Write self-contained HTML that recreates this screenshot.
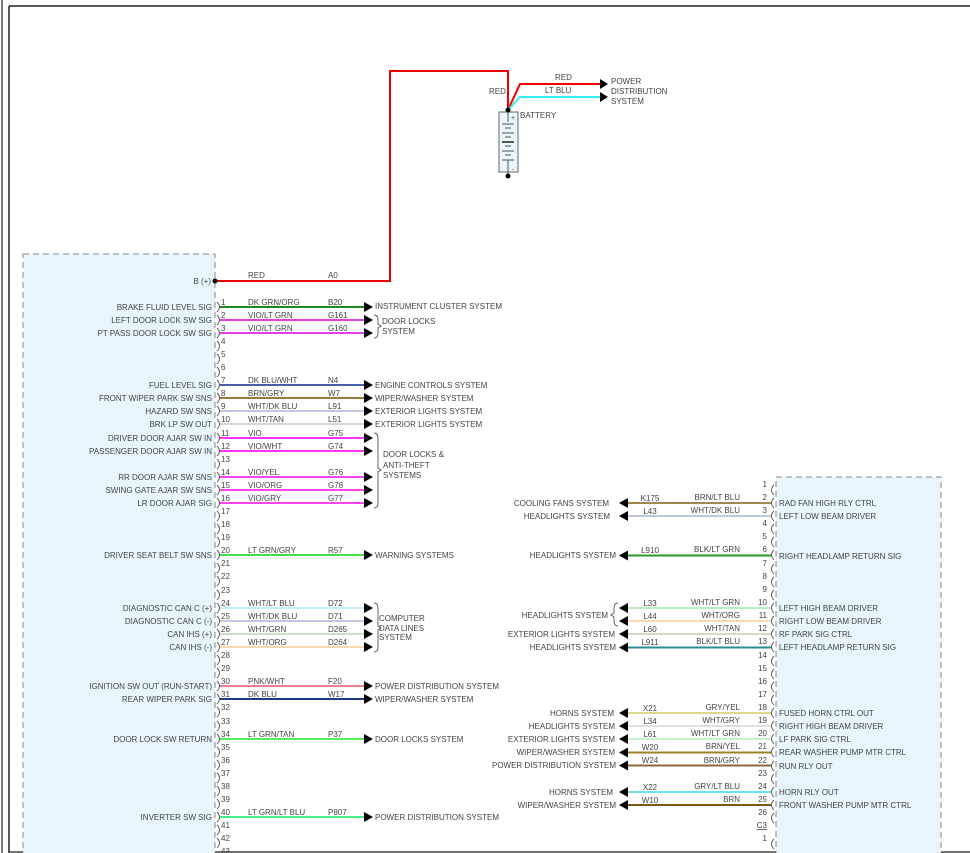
<!DOCTYPE html>
<html><head><meta charset="utf-8"><style>
html,body{margin:0;padding:0;background:#fff;}
svg{display:block;}
text{font-family:"Liberation Sans",sans-serif;font-size:8px;fill:#444;}
.r{text-anchor:end;}
.m{text-anchor:middle;}
</style></head><body>
<svg width="970" height="853" viewBox="0 0 970 853" xmlns="http://www.w3.org/2000/svg">
<defs>
<marker id="a" markerWidth="10" markerHeight="10" refX="0" refY="5" orient="auto" markerUnits="userSpaceOnUse"></marker>
</defs>
<!-- frame -->
<line x1="2" y1="0" x2="2" y2="853" stroke="#555" stroke-width="1.5"/>
<line x1="9" y1="6" x2="9" y2="853" stroke="#222" stroke-width="1.5"/>
<line x1="9" y1="6" x2="970" y2="6" stroke="#222" stroke-width="1.5"/>
<line x1="9" y1="852" x2="970" y2="852" stroke="#444" stroke-width="1.5"/>

<!-- modules -->
<rect x="23" y="254" width="192" height="620" fill="#e8f5fd" stroke="#888" stroke-dasharray="6,4"/>
<rect x="776" y="477" width="165" height="400" fill="#e8f5fd" stroke="#888" stroke-dasharray="6,4"/>

<!-- battery -->
<polyline points="215,281 390,281 390,71 508,71 508,110" fill="none" stroke="#e00" stroke-width="2"/>
<polyline points="508,110 520,84 600,84" fill="none" stroke="#e00" stroke-width="2"/>
<polyline points="508,110 520,97 600,97" fill="none" stroke="#3ee" stroke-width="2"/>
<polygon points="600,79 608,84 600,89" fill="#000"/>
<polygon points="600,92 608,97 600,102" fill="#000"/>
<text x="555" y="80">RED</text>
<text x="545" y="93">LT BLU</text>
<text x="489" y="94">RED</text>
<text x="611" y="84">POWER</text>
<text x="611" y="94">DISTRIBUTION</text>
<text x="611" y="104">SYSTEM</text>
<text x="520" y="118">BATTERY</text>
<rect x="499" y="112" width="19" height="60" fill="#e8f5fd" stroke="#666"/>
<text x="511" y="120" style="font-size:7px">+</text>
<text x="512" y="171" style="font-size:6px">-</text>
<g stroke="#555">
<line x1="508" y1="112" x2="508" y2="122"/>
<line x1="502" y1="124" x2="514" y2="124"/>
<line x1="505" y1="128" x2="511" y2="128"/>
<line x1="502" y1="133" x2="514" y2="133"/>
<line x1="505" y1="137" x2="511" y2="137"/>
<line x1="502" y1="142" x2="514" y2="142" stroke-width="2"/>
<line x1="505" y1="146" x2="511" y2="146"/>
<line x1="502" y1="151" x2="514" y2="151"/>
<line x1="505" y1="155" x2="511" y2="155"/>
<line x1="502" y1="160" x2="514" y2="160"/>
<line x1="508" y1="160" x2="508" y2="176"/>
</g>
<circle cx="508" cy="110" r="2.5" fill="#000"/>
<circle cx="508" cy="176" r="2.5" fill="#000"/>

<!-- B(+) -->
<circle cx="215" cy="281" r="2.5" fill="#000"/>
<text class="r" x="211" y="284">B (+)</text>
<text x="248" y="278">RED</text>
<text x="328" y="278">A0</text>

<!-- left connector glyphs -->
<g fill="none" stroke="#555" stroke-width="0.9">
<path d="M217 302 Q222 307 217 312"/><path d="M217 315 Q222 320 217 325"/><path d="M217 328 Q222 333 217 338"/><path d="M217 341 Q222 346 217 351"/><path d="M217 354 Q222 359 217 364"/><path d="M217 367 Q222 372 217 377"/><path d="M217 380 Q222 385 217 390"/><path d="M217 393 Q222 398 217 403"/><path d="M217 406 Q222 411 217 416"/><path d="M217 419 Q222 424 217 429"/><path d="M217 433 Q222 438 217 443"/><path d="M217 446 Q222 451 217 456"/><path d="M217 459 Q222 464 217 469"/><path d="M217 472 Q222 477 217 482"/><path d="M217 485 Q222 490 217 495"/><path d="M217 498 Q222 503 217 508"/><path d="M217 511 Q222 516 217 521"/><path d="M217 524 Q222 529 217 534"/><path d="M217 537 Q222 542 217 547"/><path d="M217 550 Q222 555 217 560"/><path d="M217 563 Q222 568 217 573"/><path d="M217 576 Q222 581 217 586"/><path d="M217 590 Q222 595 217 600"/><path d="M217 603 Q222 608 217 613"/><path d="M217 616 Q222 621 217 626"/><path d="M217 629 Q222 634 217 639"/><path d="M217 642 Q222 647 217 652"/><path d="M217 655 Q222 660 217 665"/><path d="M217 668 Q222 673 217 678"/><path d="M217 681 Q222 686 217 691"/><path d="M217 694 Q222 699 217 704"/><path d="M217 707 Q222 712 217 717"/><path d="M217 721 Q222 726 217 731"/><path d="M217 734 Q222 739 217 744"/><path d="M217 747 Q222 752 217 757"/><path d="M217 760 Q222 765 217 770"/><path d="M217 773 Q222 778 217 783"/><path d="M217 786 Q222 791 217 796"/><path d="M217 799 Q222 804 217 809"/><path d="M217 812 Q222 817 217 822"/><path d="M217 825 Q222 830 217 835"/><path d="M217 838 Q222 843 217 848"/>
</g>
<g>
<text x="221" y="305">1</text><text x="221" y="318">2</text><text x="221" y="331">3</text><text x="221" y="344">4</text><text x="221" y="357">5</text><text x="221" y="370">6</text><text x="221" y="383">7</text><text x="221" y="396">8</text><text x="221" y="409">9</text><text x="221" y="422">10</text><text x="221" y="436">11</text><text x="221" y="449">12</text><text x="221" y="462">13</text><text x="221" y="475">14</text><text x="221" y="488">15</text><text x="221" y="501">16</text><text x="221" y="514">17</text><text x="221" y="527">18</text><text x="221" y="540">19</text><text x="221" y="553">20</text><text x="221" y="566">21</text><text x="221" y="579">22</text><text x="221" y="593">23</text><text x="221" y="606">24</text><text x="221" y="619">25</text><text x="221" y="632">26</text><text x="221" y="645">27</text><text x="221" y="658">28</text><text x="221" y="671">29</text><text x="221" y="684">30</text><text x="221" y="697">31</text><text x="221" y="710">32</text><text x="221" y="724">33</text><text x="221" y="737">34</text><text x="221" y="750">35</text><text x="221" y="763">36</text><text x="221" y="776">37</text><text x="221" y="789">38</text><text x="221" y="802">39</text><text x="221" y="815">40</text><text x="221" y="828">41</text><text x="221" y="841">42</text><text x="221" y="854">43</text>
</g>

<!-- left wires -->
<g stroke-width="2">
<line x1="220" y1="307" x2="364" y2="307" stroke="#1e8a1e"/>
<line x1="220" y1="320" x2="364" y2="320" stroke="#e040e0"/>
<line x1="220" y1="333" x2="364" y2="333" stroke="#e040e0"/>
<line x1="220" y1="385" x2="364" y2="385" stroke="#4a5ea8"/>
<line x1="220" y1="398" x2="364" y2="398" stroke="#9a7a40"/>
<line x1="220" y1="411" x2="364" y2="411" stroke="#c0c8e0"/>
<line x1="220" y1="424" x2="364" y2="424" stroke="#dcd6ca"/>
<line x1="220" y1="438" x2="364" y2="438" stroke="#ff33ff"/>
<line x1="220" y1="451" x2="364" y2="451" stroke="#ff33ff"/>
<line x1="220" y1="477" x2="364" y2="477" stroke="#ff44ee"/>
<line x1="220" y1="490" x2="364" y2="490" stroke="#ff44ee"/>
<line x1="220" y1="503" x2="364" y2="503" stroke="#ff44ee"/>
<line x1="220" y1="555" x2="364" y2="555" stroke="#44dd44"/>
<line x1="220" y1="608" x2="364" y2="608" stroke="#c0f0f8"/>
<line x1="220" y1="621" x2="364" y2="621" stroke="#c0c8e0"/>
<line x1="220" y1="634" x2="364" y2="634" stroke="#c8e0c8"/>
<line x1="220" y1="647" x2="364" y2="647" stroke="#fcd8b0"/>
<line x1="220" y1="686" x2="364" y2="686" stroke="#f08090"/>
<line x1="220" y1="699" x2="364" y2="699" stroke="#203880"/>
<line x1="220" y1="739" x2="364" y2="739" stroke="#55ee55"/>
<line x1="220" y1="817" x2="364" y2="817" stroke="#44ee88"/>
</g>
<g fill="#000">
<polygon points="364,302 373,307 364,312"/><polygon points="364,315 373,320 364,325"/><polygon points="364,328 373,333 364,338"/>
<polygon points="364,380 373,385 364,390"/><polygon points="364,393 373,398 364,403"/><polygon points="364,406 373,411 364,416"/><polygon points="364,419 373,424 364,429"/>
<polygon points="364,433 373,438 364,443"/><polygon points="364,446 373,451 364,456"/><polygon points="364,472 373,477 364,482"/><polygon points="364,485 373,490 364,495"/><polygon points="364,498 373,503 364,508"/>
<polygon points="364,550 373,555 364,560"/>
<polygon points="364,603 373,608 364,613"/><polygon points="364,616 373,621 364,626"/><polygon points="364,629 373,634 364,639"/><polygon points="364,642 373,647 364,652"/>
<polygon points="364,681 373,686 364,691"/><polygon points="364,694 373,699 364,704"/><polygon points="364,734 373,739 364,744"/><polygon points="364,812 373,817 364,822"/>
</g>
<!-- braces -->
<g fill="none" stroke="#555" stroke-width="0.9">
<path d="M374 315 Q378 315 378 320 L378 324 L381 326 L378 328 L378 333 Q378 338 374 338"/>
<path d="M374 433 Q378 433 378 438 L378 468 L381 470 L378 472 L378 503 Q378 508 374 508"/>
<path d="M374 603 Q378 603 378 608 L378 626 L381 628 L378 630 L378 647 Q378 652 374 652"/>
</g>
<!-- left texts -->
<g>
<text class="r" x="212" y="310">BRAKE FLUID LEVEL SIG</text>
<text class="r" x="212" y="323">LEFT DOOR LOCK SW SIG</text>
<text class="r" x="212" y="336">PT PASS DOOR LOCK SW SIG</text>
<text class="r" x="212" y="388">FUEL LEVEL SIG</text>
<text class="r" x="212" y="401">FRONT WIPER PARK SW SNS</text>
<text class="r" x="212" y="414">HAZARD SW SNS</text>
<text class="r" x="212" y="427">BRK LP SW OUT</text>
<text class="r" x="212" y="441">DRIVER DOOR AJAR SW IN</text>
<text class="r" x="212" y="454">PASSENGER DOOR AJAR SW IN</text>
<text class="r" x="212" y="480">RR DOOR AJAR SW SNS</text>
<text class="r" x="212" y="493">SWING GATE AJAR SW SNS</text>
<text class="r" x="212" y="506">LR DOOR AJAR SIG</text>
<text class="r" x="212" y="558">DRIVER SEAT BELT SW SNS</text>
<text class="r" x="212" y="611">DIAGNOSTIC CAN C (+)</text>
<text class="r" x="212" y="624">DIAGNOSTIC CAN C (-)</text>
<text class="r" x="212" y="637">CAN IHS (+)</text>
<text class="r" x="212" y="650">CAN IHS (-)</text>
<text class="r" x="212" y="689">IGNITION SW OUT (RUN-START)</text>
<text class="r" x="212" y="702">REAR WIPER PARK SIG</text>
<text class="r" x="212" y="742">DOOR LOCK SW RETURN</text>
<text class="r" x="212" y="820">INVERTER SW SIG</text>

<text x="248" y="305">DK GRN/ORG</text><text x="328" y="305">B20</text>
<text x="248" y="318">VIO/LT GRN</text><text x="328" y="318">G161</text>
<text x="248" y="331">VIO/LT GRN</text><text x="328" y="331">G160</text>
<text x="248" y="383">DK BLU/WHT</text><text x="328" y="383">N4</text>
<text x="248" y="396">BRN/GRY</text><text x="328" y="396">W7</text>
<text x="248" y="409">WHT/DK BLU</text><text x="328" y="409">L91</text>
<text x="248" y="422">WHT/TAN</text><text x="328" y="422">L51</text>
<text x="248" y="436">VIO</text><text x="328" y="436">G75</text>
<text x="248" y="449">VIO/WHT</text><text x="328" y="449">G74</text>
<text x="248" y="475">VIO/YEL</text><text x="328" y="475">G76</text>
<text x="248" y="488">VIO/ORG</text><text x="328" y="488">G78</text>
<text x="248" y="501">VIO/GRY</text><text x="328" y="501">G77</text>
<text x="248" y="553">LT GRN/GRY</text><text x="328" y="553">R57</text>
<text x="248" y="606">WHT/LT BLU</text><text x="328" y="606">D72</text>
<text x="248" y="619">WHT/DK BLU</text><text x="328" y="619">D71</text>
<text x="248" y="632">WHT/GRN</text><text x="328" y="632">D265</text>
<text x="248" y="645">WHT/ORG</text><text x="328" y="645">D264</text>
<text x="248" y="684">PNK/WHT</text><text x="328" y="684">F20</text>
<text x="248" y="697">DK BLU</text><text x="328" y="697">W17</text>
<text x="248" y="737">LT GRN/TAN</text><text x="328" y="737">P37</text>
<text x="248" y="815">LT GRN/LT BLU</text><text x="328" y="815">P807</text>

<text x="375" y="309">INSTRUMENT CLUSTER SYSTEM</text>
<text x="382" y="324">DOOR LOCKS</text><text x="382" y="334">SYSTEM</text>
<text x="375" y="388">ENGINE CONTROLS SYSTEM</text>
<text x="375" y="401">WIPER/WASHER SYSTEM</text>
<text x="375" y="414">EXTERIOR LIGHTS SYSTEM</text>
<text x="375" y="427">EXTERIOR LIGHTS SYSTEM</text>
<text x="383" y="457">DOOR LOCKS &amp;</text><text x="383" y="468">ANTI-THEFT</text><text x="383" y="478">SYSTEMS</text>
<text x="375" y="558">WARNING SYSTEMS</text>
<text x="379" y="621">COMPUTER</text><text x="379" y="631">DATA LINES</text><text x="379" y="640">SYSTEM</text>
<text x="375" y="689">POWER DISTRIBUTION SYSTEM</text>
<text x="375" y="702">WIPER/WASHER SYSTEM</text>
<text x="375" y="742">DOOR LOCKS SYSTEM</text>
<text x="375" y="820">POWER DISTRIBUTION SYSTEM</text>
</g>

<!-- right connector glyphs -->
<g fill="none" stroke="#555" stroke-width="0.9">
<path d="M774 485 Q769 490 774 495"/><path d="M774 498 Q769 503 774 508"/><path d="M774 511 Q769 516 774 521"/><path d="M774 524 Q769 529 774 534"/><path d="M774 537 Q769 542 774 547"/><path d="M774 550 Q769 555 774 560"/><path d="M774 564 Q769 569 774 574"/><path d="M774 577 Q769 582 774 587"/><path d="M774 590 Q769 595 774 600"/><path d="M774 603 Q769 608 774 613"/><path d="M774 616 Q769 621 774 626"/><path d="M774 629 Q769 634 774 639"/><path d="M774 642 Q769 647 774 652"/><path d="M774 656 Q769 661 774 666"/><path d="M774 669 Q769 674 774 679"/><path d="M774 682 Q769 687 774 692"/><path d="M774 695 Q769 700 774 705"/><path d="M774 708 Q769 713 774 718"/><path d="M774 721 Q769 726 774 731"/><path d="M774 734 Q769 739 774 744"/><path d="M774 747 Q769 752 774 757"/><path d="M774 761 Q769 766 774 771"/><path d="M774 774 Q769 779 774 784"/><path d="M774 787 Q769 792 774 797"/><path d="M774 800 Q769 805 774 810"/><path d="M774 813 Q769 818 774 823"/><path d="M774 839 Q769 844 774 849"/>
</g>
<g>
<text class="r" x="767" y="487">1</text><text class="r" x="767" y="500">2</text><text class="r" x="767" y="513">3</text><text class="r" x="767" y="526">4</text><text class="r" x="767" y="539">5</text><text class="r" x="767" y="552">6</text><text class="r" x="767" y="566">7</text><text class="r" x="767" y="579">8</text><text class="r" x="767" y="592">9</text><text class="r" x="767" y="605">10</text><text class="r" x="767" y="618">11</text><text class="r" x="767" y="631">12</text><text class="r" x="767" y="644">13</text><text class="r" x="767" y="658">14</text><text class="r" x="767" y="671">15</text><text class="r" x="767" y="684">16</text><text class="r" x="767" y="697">17</text><text class="r" x="767" y="710">18</text><text class="r" x="767" y="723">19</text><text class="r" x="767" y="736">20</text><text class="r" x="767" y="749">21</text><text class="r" x="767" y="763">22</text><text class="r" x="767" y="776">23</text><text class="r" x="767" y="789">24</text><text class="r" x="767" y="802">25</text><text class="r" x="767" y="815">26</text>
<text class="r" x="767" y="828" style="text-decoration:underline">C3</text>
<text class="r" x="767" y="841">1</text>
</g>
<!-- right wires -->
<g stroke-width="2">
<line x1="628" y1="503" x2="771" y2="503" stroke="#a08850"/>
<line x1="628" y1="516" x2="771" y2="516" stroke="#c0c8e0"/>
<line x1="628" y1="555.5" x2="771" y2="555.5" stroke="#2a9a2a"/>
<line x1="628" y1="608" x2="771" y2="608" stroke="#b8f0b8"/>
<line x1="628" y1="621" x2="771" y2="621" stroke="#fcd8b0"/>
<line x1="628" y1="634" x2="771" y2="634" stroke="#dcd6ca"/>
<line x1="628" y1="647.5" x2="771" y2="647.5" stroke="#2a8a9a"/>
<line x1="628" y1="713" x2="771" y2="713" stroke="#dcd890"/>
<line x1="628" y1="726" x2="771" y2="726" stroke="#e0e0e0"/>
<line x1="628" y1="739" x2="771" y2="739" stroke="#c8f0c8"/>
<line x1="628" y1="752.5" x2="771" y2="752.5" stroke="#a08020"/>
<line x1="628" y1="765.5" x2="771" y2="765.5" stroke="#8a6a3a"/>
<line x1="628" y1="792" x2="771" y2="792" stroke="#70e0f0"/>
<line x1="628" y1="805" x2="771" y2="805" stroke="#7a5a10"/>
</g>
<g fill="#000">
<polygon points="628,498 619,503 628,508"/><polygon points="628,511 619,516 628,521"/><polygon points="628,550.5 619,555.5 628,560.5"/>
<polygon points="628,603 619,608 628,613"/><polygon points="628,616 619,621 628,626"/><polygon points="628,629 619,634 628,639"/><polygon points="628,642.5 619,647.5 628,652.5"/>
<polygon points="628,708 619,713 628,718"/><polygon points="628,721 619,726 628,731"/><polygon points="628,734 619,739 628,744"/><polygon points="628,747.5 619,752.5 628,757.5"/><polygon points="628,760.5 619,765.5 628,770.5"/>
<polygon points="628,787 619,792 628,797"/><polygon points="628,800 619,805 628,810"/>
</g>
<path d="M618 603 Q614 603 614 608 L614 613 L611 615 L614 617 L614 621 Q614 626 618 626" fill="none" stroke="#555" stroke-width="0.9"/>
<g>
<text class="r" x="609" y="506">COOLING FANS SYSTEM</text>
<text class="r" x="610" y="519">HEADLIGHTS SYSTEM</text>
<text class="r" x="616" y="558">HEADLIGHTS SYSTEM</text>
<text class="r" x="608" y="618">HEADLIGHTS SYSTEM</text>
<text class="r" x="615" y="637">EXTERIOR LIGHTS SYSTEM</text>
<text class="r" x="616" y="650">HEADLIGHTS SYSTEM</text>
<text class="r" x="614" y="716">HORNS SYSTEM</text>
<text class="r" x="615" y="729">HEADLIGHTS SYSTEM</text>
<text class="r" x="615" y="742">EXTERIOR LIGHTS SYSTEM</text>
<text class="r" x="615" y="755">WIPER/WASHER SYSTEM</text>
<text class="r" x="616" y="768">POWER DISTRIBUTION SYSTEM</text>
<text class="r" x="613" y="795">HORNS SYSTEM</text>
<text class="r" x="616" y="808">WIPER/WASHER SYSTEM</text>

<text class="m" x="650" y="501">K175</text><text class="r" x="740" y="500">BRN/LT BLU</text>
<text class="m" x="650" y="514">L43</text><text class="r" x="740" y="513">WHT/DK BLU</text>
<text class="m" x="650" y="553">L910</text><text class="r" x="740" y="552">BLK/LT GRN</text>
<text class="m" x="650" y="606">L33</text><text class="r" x="740" y="605">WHT/LT GRN</text>
<text class="m" x="650" y="619">L44</text><text class="r" x="740" y="618">WHT/ORG</text>
<text class="m" x="650" y="632">L60</text><text class="r" x="740" y="631">WHT/TAN</text>
<text class="m" x="650" y="645">L911</text><text class="r" x="740" y="644">BLK/LT BLU</text>
<text class="m" x="650" y="711">X21</text><text class="r" x="740" y="710">GRY/YEL</text>
<text class="m" x="650" y="724">L34</text><text class="r" x="740" y="723">WHT/GRY</text>
<text class="m" x="650" y="737">L61</text><text class="r" x="740" y="736">WHT/LT GRN</text>
<text class="m" x="650" y="750">W20</text><text class="r" x="740" y="749">BRN/YEL</text>
<text class="m" x="650" y="763">W24</text><text class="r" x="740" y="763">BRN/GRY</text>
<text class="m" x="650" y="790">X22</text><text class="r" x="740" y="789">GRY/LT BLU</text>
<text class="m" x="650" y="803">W10</text><text class="r" x="740" y="802">BRN</text>

<text x="779" y="506">RAD FAN HIGH RLY CTRL</text>
<text x="779" y="519">LEFT LOW BEAM DRIVER</text>
<text x="779" y="559">RIGHT HEADLAMP RETURN SIG</text>
<text x="779" y="611">LEFT HIGH BEAM DRIVER</text>
<text x="779" y="624">RIGHT LOW BEAM DRIVER</text>
<text x="779" y="637">RF PARK SIG CTRL</text>
<text x="779" y="650">LEFT HEADLAMP RETURN SIG</text>
<text x="779" y="716">FUSED HORN CTRL OUT</text>
<text x="779" y="729">RIGHT HIGH BEAM DRIVER</text>
<text x="779" y="742">LF PARK SIG CTRL</text>
<text x="779" y="755">REAR WASHER PUMP MTR CTRL</text>
<text x="779" y="769">RUN RLY OUT</text>
<text x="779" y="795">HORN RLY OUT</text>
<text x="779" y="808">FRONT WASHER PUMP MTR CTRL</text>
</g>
</svg>
</body></html>
